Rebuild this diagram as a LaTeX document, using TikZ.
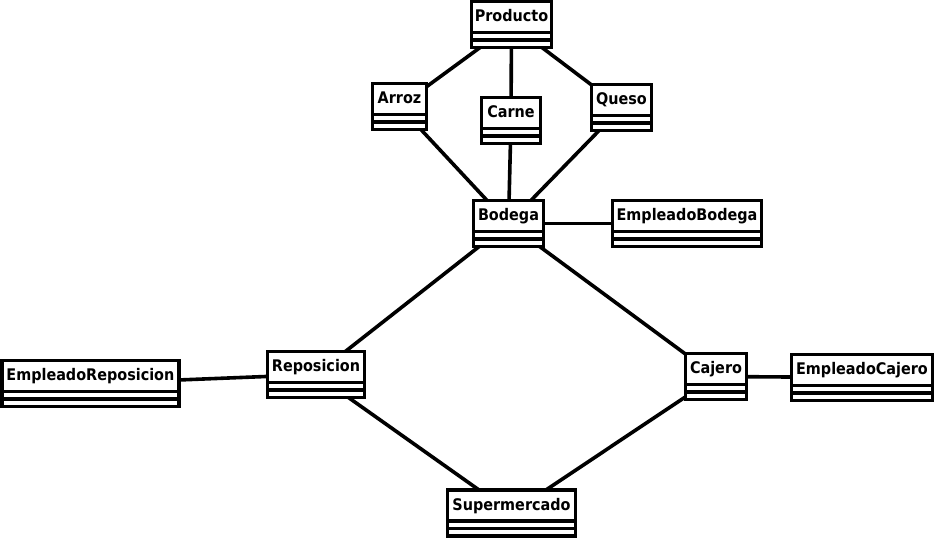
\documentclass[tikz,border=0pt]{standalone}
\usepackage{fontspec}
\newfontfamily\umlfont[FakeStretch=0.9]{DejaVu Sans}

\tikzset{
  % class box: name compartment (31pt) and two empty compartments (7.5pt each)
  umlclass/.style={
    draw=black, line width=3.8pt, fill=white,
    inner xsep=0pt, inner ysep=3.5pt, outer sep=0pt,
    anchor=north west, minimum height=46pt,
    text height=16.5pt, text depth=22.5pt,
    font=\umlfont\bfseries\fontsize{16}{19}\selectfont,
    path picture={
      \draw[line width=3.8pt]
        ([yshift=-31pt]path picture bounding box.north west) --
        ([yshift=-31pt]path picture bounding box.north east)
        ([yshift=-38.5pt]path picture bounding box.north west) --
        ([yshift=-38.5pt]path picture bounding box.north east);
    }
  },
  link/.style={draw=black, line width=3.6pt}
}

\begin{document}
\begin{tikzpicture}[x=1pt,y=-1pt]
\useasboundingbox (0,0) rectangle (935,538);

% class boxes (north-west corner, width)
\node[umlclass, minimum width=80pt]  (producto) at (471.5,1.5)   {Producto};
\node[umlclass, minimum width=54pt]  (arroz)    at (372.5,83.5)  {Arroz};
\node[umlclass, minimum width=59pt]  (carne)    at (481.5,97.5)  {Carne};
\node[umlclass, minimum width=60pt]  (queso)    at (591.5,84.5)  {Queso};
\node[umlclass, minimum width=70pt]  (bodega)   at (473.5,200.5) {Bodega};
\node[umlclass, minimum width=149pt] (empbod)   at (612.5,200.5) {EmpleadoBodega};
\node[umlclass, minimum width=97pt]  (repos)    at (267.5,351.5) {Reposicion};
\node[umlclass, minimum width=177pt] (emprep)   at (1.9,360.5)   {EmpleadoReposicion};
\node[umlclass, minimum width=141pt] (empcaj)   at (791.5,354.5) {EmpleadoCajero};
\node[umlclass, minimum width=61pt]  (cajero)   at (685.5,353.5) {Cajero};
\node[umlclass, minimum width=128pt] (super)    at (447.5,490) {Supermercado};

% associations
\draw[link] (producto) -- (arroz);
\draw[link] (producto) -- (carne);
\draw[link] (producto) -- (queso);
\draw[link] (arroz) -- (bodega);
\draw[link] (carne) -- (bodega);
\draw[link] (queso) -- (bodega);
\draw[link] (bodega) -- (empbod);
\draw[link] (bodega) -- (repos);
\draw[link] (bodega) -- (cajero);
\draw[link] (repos) -- (emprep);
\draw[link] (cajero) -- (empcaj);
\draw[link] (repos) -- (super);
\draw[link] (cajero) -- (super);
\end{tikzpicture}
\end{document}
